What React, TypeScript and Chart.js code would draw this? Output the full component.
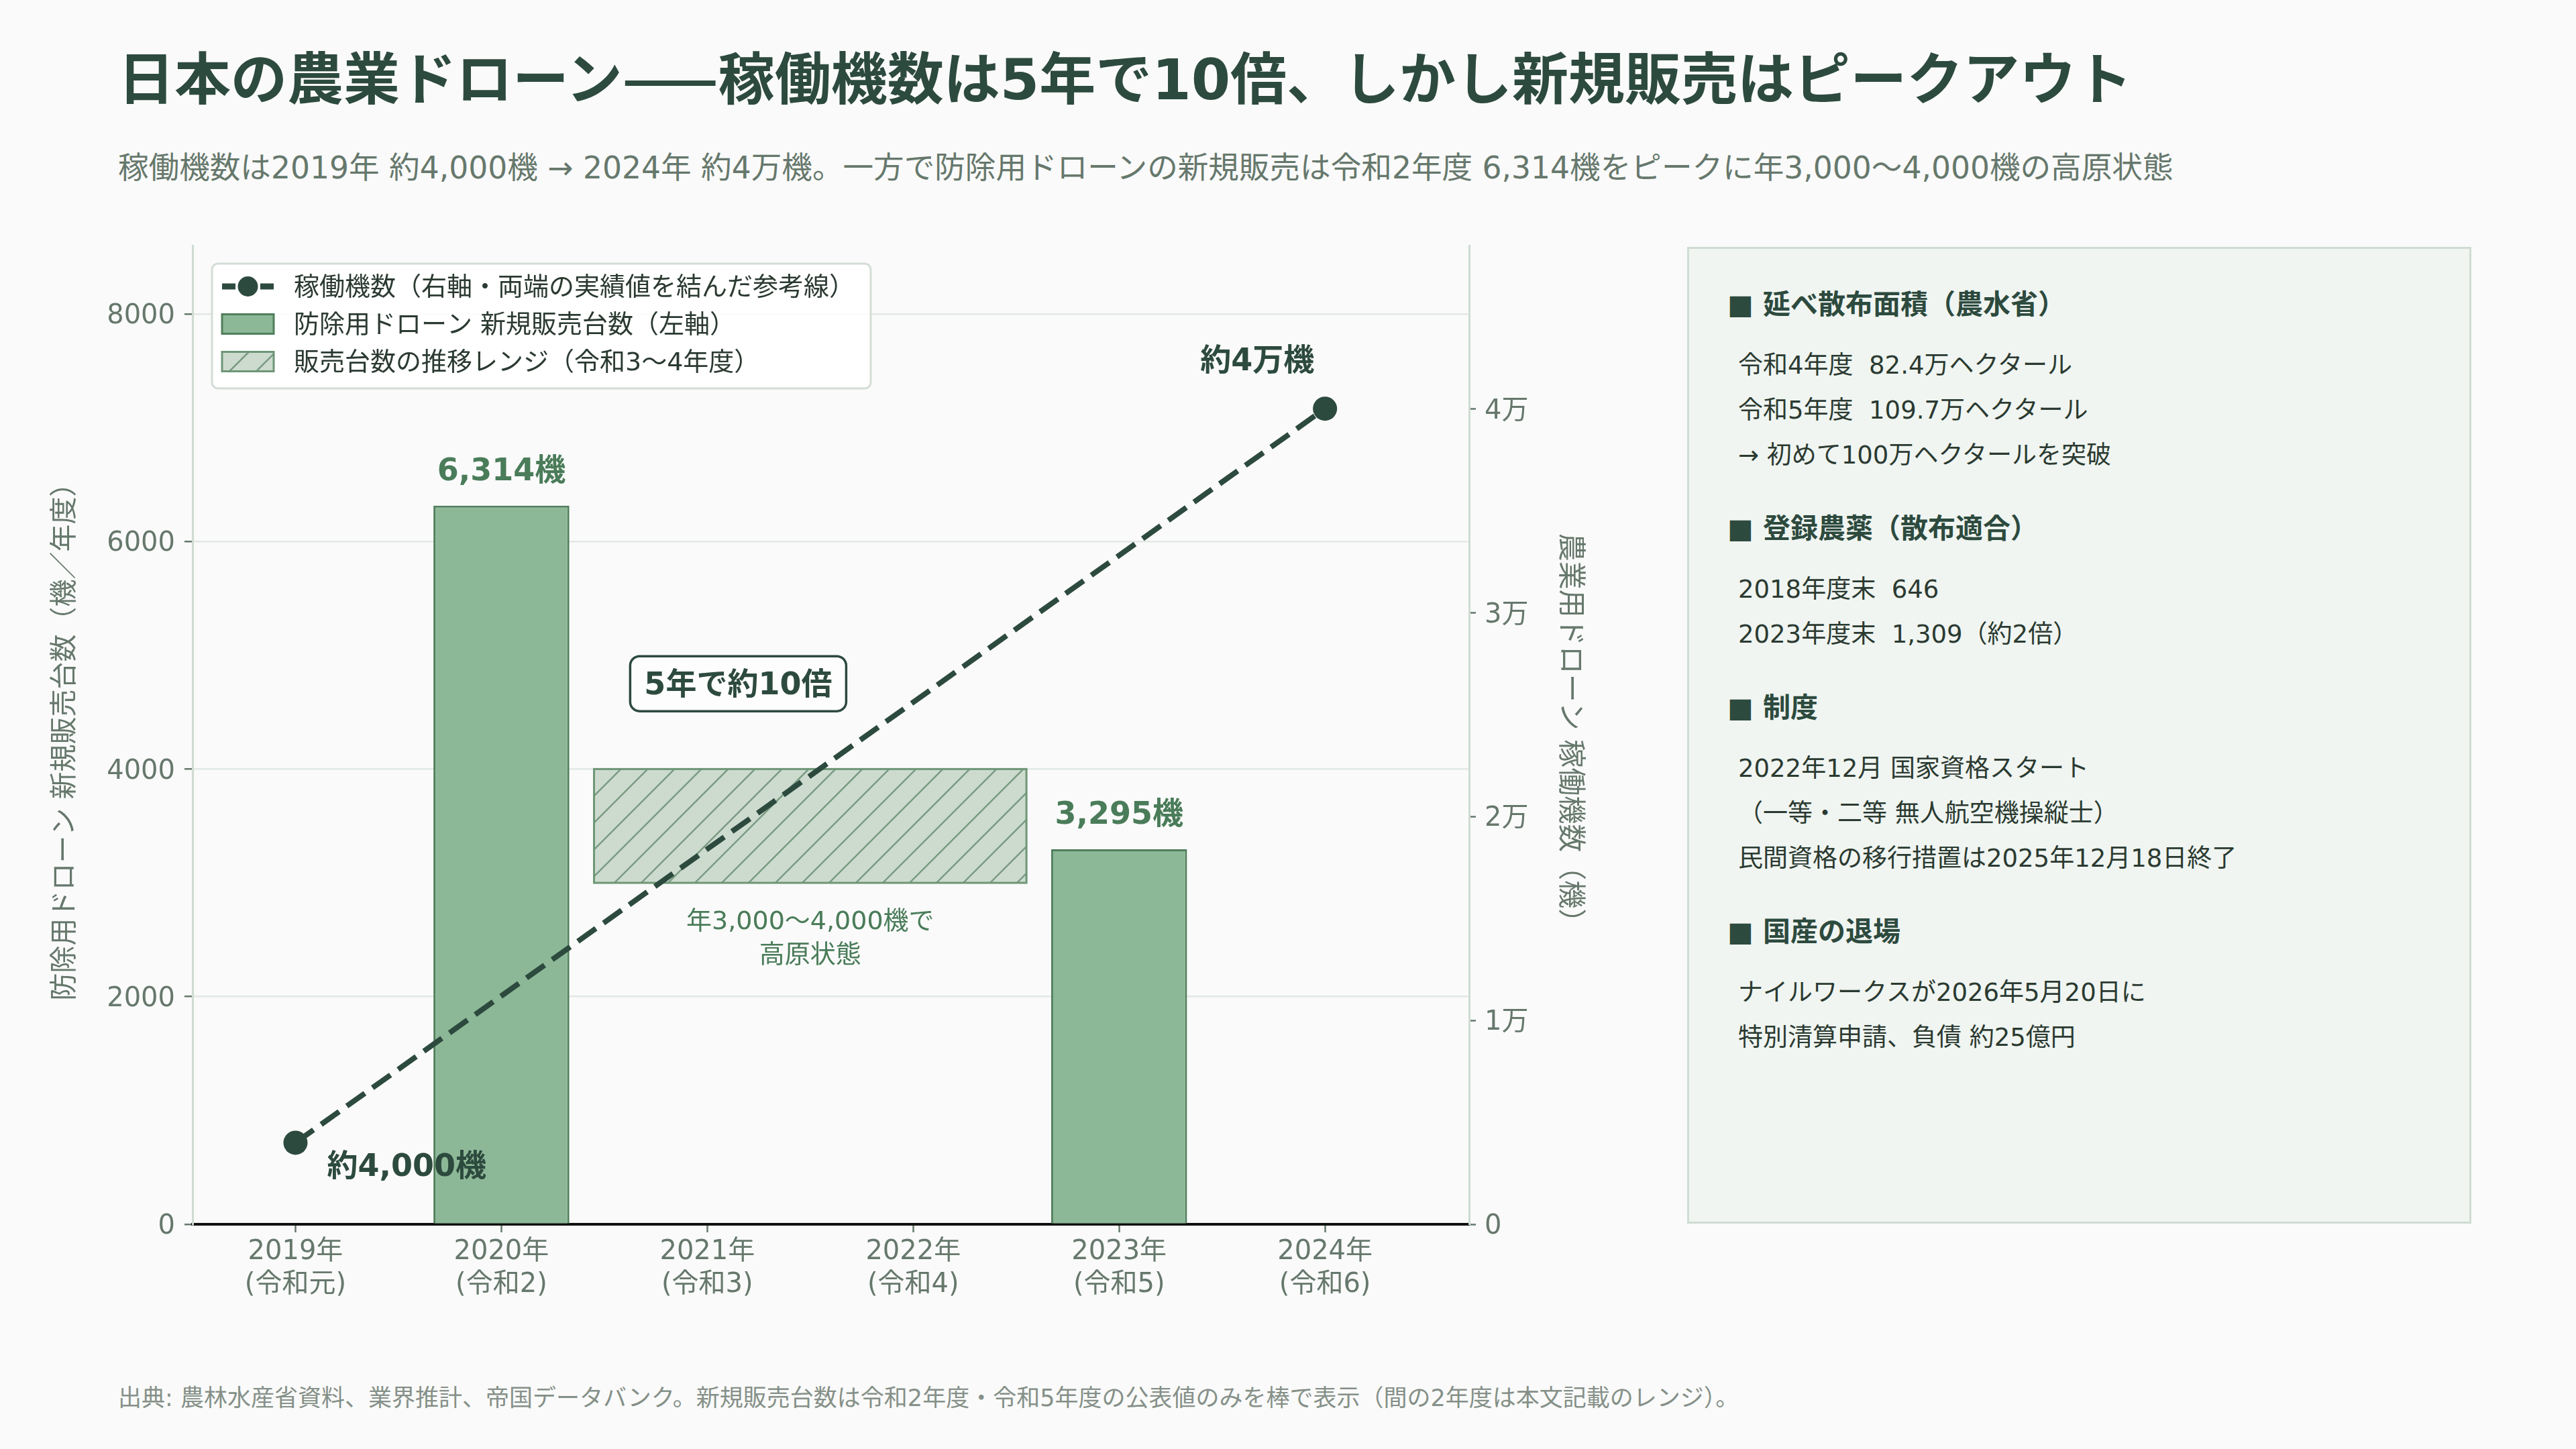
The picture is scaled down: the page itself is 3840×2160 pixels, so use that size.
import React, { useEffect, useRef } from 'react';
import { Chart, registerables } from 'chart.js';

Chart.register(...registerables);

const FONT = "'DejaVu Sans', 'Noto Sans CJK JP', sans-serif";
const CJK = "'Noto Sans CJK JP', sans-serif";
const BG = '#fafafa';
const DARK = '#2d4a3e';
const MID = '#4a7c59';
const MUTED = '#66786c';
const TEXT = '#2b3a31';
const BAR_FILL = '#8db897';
const BAR_EDGE = '#4f7f5b';
const HATCH_FILL = '#cddbcf';
const HATCH_LINE = '#7a9b82';
const HATCH_EDGE = '#6e9677';

// --- data ---
const years = ['2019年', '2020年', '2021年', '2022年', '2023年', '2024年'];
const eras = ['(令和元)', '(令和2)', '(令和3)', '(令和4)', '(令和5)', '(令和6)'];
const newSales = [null, 6314, null, null, 3295, null];
const fleet = [4000, null, null, null, null, 40000];
const fleetLabels = ['約4,000機', '', '', '', '', '約4万機'];
const plateauRange = [3000, 4000];
const plateauYears = [2, 3];
const salesTicks = [0, 2000, 4000, 6000, 8000];
const fleetTicks = [0, 10000, 20000, 30000, 40000];
const fleetTickLabels = ['0', '1万', '2万', '3万', '4万'];
const legendLabels = [
  '稼働機数（右軸・両端の実績値を結んだ参考線）',
  '防除用ドローン 新規販売台数（左軸）',
  '販売台数の推移レンジ（令和3〜4年度）',
];
const calloutText = '5年で約10倍';

const titleHead = '日本の農業ドローン';
const titleDash = '——';
const titleTail = '稼働機数は5年で10倍、しかし新規販売はピークアウト';
const subtitle =
  '稼働機数は2019年 約4,000機 → 2024年 約4万機。一方で防除用ドローンの新規販売は令和2年度 6,314機をピークに年3,000〜4,000機の高原状態';
const footer =
  '出典: 農林水産省資料、業界推計、帝国データバンク。新規販売台数は令和2年度・令和5年度の公表値のみを棒で表示（間の2年度は本文記載のレンジ）。';

const panelSections = [
  { head: '■ 延べ散布面積（農水省）', items: ['令和4年度  82.4万ヘクタール', '令和5年度  109.7万ヘクタール', '→ 初めて100万ヘクタールを突破'] },
  { head: '■ 登録農薬（散布適合）', items: ['2018年度末  646', '2023年度末  1,309（約2倍）'] },
  { head: '■ 制度', items: ['2022年12月 国家資格スタート', '（一等・二等 無人航空機操縦士）', '民間資格の移行措置は2025年12月18日終了'] },
  { head: '■ 国産の退場', items: ['ナイルワークスが2026年5月20日に', '特別清算申請、負債 約25億円'] },
];

const fmt = (n: number) => String(n).replace(/\B(?=(\d{3})+(?!\d))/g, ',');

function hatchRect(ctx: CanvasRenderingContext2D, x: number, y: number, w: number, h: number, edge: number) {
  ctx.save();
  ctx.fillStyle = HATCH_FILL;
  ctx.fillRect(x, y, w, h);
  ctx.beginPath();
  ctx.rect(x, y, w, h);
  ctx.clip();
  ctx.strokeStyle = HATCH_LINE;
  ctx.lineWidth = 2.5;
  ctx.beginPath();
  for (let s = x - h; s < x + w + 40; s += 40) {
    ctx.moveTo(s, y + h);
    ctx.lineTo(s + h, y);
  }
  ctx.stroke();
  ctx.restore();
  ctx.save();
  ctx.strokeStyle = HATCH_EDGE;
  ctx.lineWidth = edge;
  ctx.strokeRect(x, y, w, h);
  ctx.restore();
}

const overlayPlugin = {
  id: 'overlay',
  beforeDatasetsDraw(chart: any) {
    const { ctx, scales: { x, y } } = chart;
    const left = x.getPixelForValue(plateauYears[0] - 0.55);
    const right = x.getPixelForValue(plateauYears[1] + 0.55);
    const top = y.getPixelForValue(plateauRange[1]);
    const bottom = y.getPixelForValue(plateauRange[0]);
    hatchRect(ctx, left, top, right - left, bottom - top, 3);

    const cx = x.getPixelForValue((plateauYears[0] + plateauYears[1]) / 2);
    ctx.save();
    ctx.fillStyle = MID;
    ctx.font = `38px ${FONT}`;
    ctx.textAlign = 'center';
    ctx.textBaseline = 'middle';
    ctx.fillText(`年${fmt(plateauRange[0])}〜${fmt(plateauRange[1])}機で`, cx, bottom + 59);
    ctx.fillText('高原状態', cx, bottom + 109);
    ctx.restore();
  },
  afterDatasetsDraw(chart: any) {
    const { ctx, scales: { x, y } } = chart;
    ctx.save();
    ctx.textBaseline = 'middle';

    // bar value labels
    const barMeta = chart.getDatasetMeta(1);
    ctx.font = `bold 46px ${FONT}`;
    ctx.fillStyle = MID;
    ctx.textAlign = 'center';
    newSales.forEach((v, i) => {
      if (v == null) return;
      const el = barMeta.data[i];
      ctx.fillText(`${fmt(v)}機`, el.x, el.y - 50);
    });

    // fleet end labels
    const lineMeta = chart.getDatasetMeta(0);
    ctx.fillStyle = DARK;
    fleet.forEach((v, i) => {
      if (v == null || !fleetLabels[i]) return;
      const el = lineMeta.data[i];
      if (i === 0) {
        ctx.textAlign = 'left';
        ctx.fillText(fleetLabels[i], el.x + 47, el.y + 38);
      } else {
        ctx.textAlign = 'center';
        ctx.fillText(fleetLabels[i], el.x - 101, el.y - 69);
      }
    });

    // callout box
    const cx = x.getPixelForValue(2.15);
    const cy = y.getPixelForValue(4750);
    ctx.font = `bold 46px ${FONT}`;
    const tw = ctx.measureText(calloutText).width;
    const bw = tw + 42;
    const bh = 82;
    ctx.beginPath();
    ctx.roundRect(cx - bw / 2, cy - bh / 2, bw, bh, 14);
    ctx.fillStyle = '#fdfdfd';
    ctx.fill();
    ctx.lineWidth = 3.5;
    ctx.strokeStyle = DARK;
    ctx.stroke();
    ctx.fillStyle = DARK;
    ctx.textAlign = 'center';
    ctx.fillText(calloutText, cx, cy + 4);
    ctx.restore();
  },
  afterDraw(chart: any) {
    const { ctx, chartArea: ca } = chart;
    const bx = ca.left + 29;
    const by = ca.top + 27;
    ctx.save();
    ctx.font = `38px ${FONT}`;
    const textX = bx + 122;
    const tw = Math.max(...legendLabels.map((t) => ctx.measureText(t).width));
    const bw = textX + tw + 24 - bx;
    const bh = 186;
    ctx.beginPath();
    ctx.roundRect(bx, by, bw, bh, 9);
    ctx.fillStyle = 'rgba(255,255,255,0.85)';
    ctx.fill();
    ctx.lineWidth = 3;
    ctx.strokeStyle = '#d3ddd6';
    ctx.stroke();

    const rows = [by + 34, by + 90, by + 146];
    const sx = bx + 15;
    const sw = 77;
    // line swatch
    ctx.strokeStyle = DARK;
    ctx.lineWidth = 9;
    ctx.beginPath();
    ctx.moveTo(sx, rows[0]);
    ctx.lineTo(sx + 20, rows[0]);
    ctx.moveTo(sx + sw - 20, rows[0]);
    ctx.lineTo(sx + sw, rows[0]);
    ctx.stroke();
    ctx.beginPath();
    ctx.arc(sx + sw / 2, rows[0], 15, 0, Math.PI * 2);
    ctx.fillStyle = DARK;
    ctx.fill();
    // bar swatch
    ctx.fillStyle = BAR_FILL;
    ctx.fillRect(sx, rows[1] - 14.5, sw, 29);
    ctx.strokeStyle = BAR_EDGE;
    ctx.lineWidth = 3;
    ctx.strokeRect(sx, rows[1] - 14.5, sw, 29);
    // hatch swatch
    hatchRect(ctx, sx, rows[2] - 14.5, sw, 29, 3);

    ctx.fillStyle = TEXT;
    ctx.textAlign = 'left';
    ctx.textBaseline = 'middle';
    legendLabels.forEach((t, i) => ctx.fillText(t, textX, rows[i] + 3));
    ctx.restore();
  },
};

export default function App() {
  const canvasRef = useRef<HTMLCanvasElement>(null);
  const chartRef = useRef<Chart | null>(null);

  useEffect(() => {
    document.body.style.margin = '0';
    document.body.style.background = BG;
    if (!canvasRef.current) return;
    Chart.defaults.font.family = FONT;

    chartRef.current = new Chart(canvasRef.current, {
      type: 'bar',
      data: {
        datasets: [
          {
            type: 'line',
            label: legendLabels[0],
            data: fleet.map((v, i) => ({ x: i, y: v })),
            xAxisID: 'x',
            yAxisID: 'y2',
            borderColor: DARK,
            borderWidth: 8,
            borderDash: [33, 14],
            pointRadius: 18,
            pointHoverRadius: 18,
            pointBackgroundColor: DARK,
            pointBorderWidth: 0,
            spanGaps: true,
            order: 0,
          },
          {
            type: 'bar',
            label: legendLabels[1],
            data: newSales.map((v, i) => ({ x: i, y: v })),
            xAxisID: 'x',
            yAxisID: 'y',
            backgroundColor: BAR_FILL,
            borderColor: BAR_EDGE,
            borderWidth: 3,
            barPercentage: 0.66,
            categoryPercentage: 1,
            order: 1,
          },
        ] as any,
      },
      options: {
        animation: false,
        responsive: true,
        maintainAspectRatio: false,
        layout: { padding: { top: 66, left: 0, right: 0, bottom: 0 } },
        plugins: {
          legend: { display: false },
          tooltip: { enabled: false },
        },
        scales: {
          x: {
            type: 'linear',
            min: -0.5,
            max: 5.7,
            bounds: 'data',
            offset: false,
            z: 1,
            afterBuildTicks: (s: any) => {
              s.ticks = years.map((_, i) => ({ value: i }));
            },
            afterFit: (s: any) => {
              s.height = 175;
            },
            ticks: {
              callback: (v: any) => [years[v], eras[v]],
              color: MUTED,
              font: { size: 40, lineHeight: 1.22 },
              padding: 5,
              autoSkip: false,
              maxRotation: 0,
            },
            grid: { drawOnChartArea: false, offset: false, tickLength: 12, tickColor: MUTED, tickWidth: 2.5 },
            border: { color: '#111111', width: 4 },
          },
          y: {
            type: 'linear',
            position: 'left',
            min: 0,
            max: 8600,
            bounds: 'data',
            afterBuildTicks: (s: any) => {
              s.ticks = salesTicks.map((v) => ({ value: v }));
            },
            afterFit: (s: any) => {
              s.width = 287;
            },
            ticks: { color: MUTED, font: { size: 40 }, padding: 14, labelOffset: 4, callback: (v: any) => String(v) },
            grid: {
              color: (c: any) => (c.tick && c.tick.value === 0 ? 'rgba(0,0,0,0)' : '#e2e8e3'),
              lineWidth: 2.5,
              tickColor: MUTED,
              tickLength: 12,
              tickWidth: 2.5,
            },
            border: { color: '#cfdbd3', width: 3 },
            title: {
              display: true,
              text: '防除用ドローン 新規販売台数（機／年度）',
              color: MUTED,
              font: { size: 41 },
              padding: { top: 74, bottom: 0 },
            },
          },
          y2: {
            type: 'linear',
            position: 'right',
            min: 0,
            max: 48000,
            bounds: 'data',
            afterBuildTicks: (s: any) => {
              s.ticks = fleetTicks.map((v) => ({ value: v }));
            },
            afterFit: (s: any) => {
              s.width = 210;
            },
            ticks: {
              color: MUTED,
              font: { size: 40 },
              padding: 13,
              labelOffset: 4,
              callback: (v: any) => fleetTickLabels[fleetTicks.indexOf(v)],
            },
            grid: { drawOnChartArea: false, tickColor: MUTED, tickLength: 10, tickWidth: 2.5 },
            border: { color: '#cfdbd3', width: 3 },
            title: {
              display: true,
              text: '農業用ドローン 稼働機数（機）',
              color: MUTED,
              font: { size: 42 },
              padding: { top: 36, bottom: 0 },
            },
          },
        },
      } as any,
      plugins: [overlayPlugin],
    });

    return () => {
      if (chartRef.current) {
        chartRef.current.destroy();
        chartRef.current = null;
      }
    };
  }, []);

  return (
    <div
      style={{
        position: 'relative',
        width: 3840,
        height: 2160,
        background: BG,
        fontFamily: FONT,
        overflow: 'hidden',
      }}
    >
      <div
        style={{
          position: 'absolute',
          left: 176,
          top: 70,
          fontSize: 84,
          fontWeight: 700,
          color: DARK,
          lineHeight: 1,
          whiteSpace: 'nowrap',
        }}
      >
        {titleHead}
        <span style={{ fontFamily: CJK }}>{titleDash}</span>
        {titleTail}
      </div>
      <div
        style={{
          position: 'absolute',
          left: 176,
          top: 228,
          fontSize: 45.6,
          color: MUTED,
          lineHeight: 1,
          whiteSpace: 'nowrap',
        }}
      >
        {subtitle}
      </div>

      <div style={{ position: 'absolute', left: 0, top: 300, width: 2400, height: 1700 }}>
        <canvas ref={canvasRef} />
      </div>

      <div
        style={{
          position: 'absolute',
          left: 2515,
          top: 368,
          width: 1169,
          height: 1456,
          boxSizing: 'border-box',
          border: '3px solid #cfdcd3',
          background: '#f0f5f1',
          paddingTop: 53,
          paddingLeft: 57,
        }}
      >
        {panelSections.map((sec) => (
          <div key={sec.head} style={{ marginBottom: 46 }}>
            <div style={{ fontSize: 41, fontWeight: 700, color: DARK, lineHeight: '60px', whiteSpace: 'pre' }}>
              {sec.head}
            </div>
            <div style={{ marginTop: 27 }}>
              {sec.items.map((it) => (
                <div
                  key={it}
                  style={{ fontSize: 37, color: TEXT, lineHeight: '67px', paddingLeft: 16, whiteSpace: 'pre' }}
                >
                  {it}
                </div>
              ))}
            </div>
          </div>
        ))}
      </div>

      <div
        style={{
          position: 'absolute',
          left: 176,
          top: 2067,
          fontSize: 35,
          color: '#859088',
          lineHeight: 1,
          whiteSpace: 'nowrap',
        }}
      >
        {footer}
      </div>
    </div>
  );
}
